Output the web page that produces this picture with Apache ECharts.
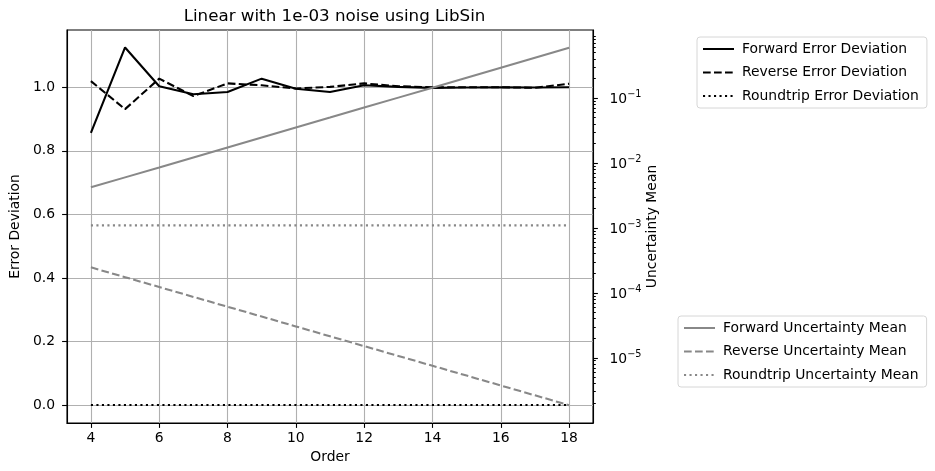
<!DOCTYPE html>
<html>
<head>
<meta charset="utf-8">
<script src="https://cdn.jsdelivr.net/npm/echarts@6/dist/echarts.min.js"></script>
<style>
  html, body { margin: 0; padding: 0; background: #fff; }
  #myChart { width: 935px; height: 471px; }
</style>
</head>
<body>
<div id="myChart"></div>
<script>
// x: polynomial order
const orders = [4, 5, 6, 7, 8, 9, 10, 11, 12, 13, 14, 15, 16, 17, 18];

// left axis: error deviation
const fwdErr = [0.856, 1.125, 1.003, 0.978, 0.985, 1.027, 0.995, 0.985, 1.006, 1.001, 0.998, 0.999, 1.0, 0.999, 1.0];
const revErr = [1.019, 0.931, 1.027, 0.972, 1.012, 1.006, 0.996, 1.001, 1.012, 1.003, 1.0, 1.0, 1.0, 0.998, 1.011];
const rtErr = [0, 0, 0, 0, 0, 0, 0, 0, 0, 0, 0, 0, 0, 0, 0];

// right axis (log): uncertainty mean
const fwdUnc = [0.0042, 0.00598, 0.00851, 0.01212, 0.01726, 0.02458, 0.035, 0.0498, 0.071, 0.101, 0.1439, 0.2049, 0.2917, 0.4154, 0.5916];
const revUnc = [2.466e-4, 1.739e-4, 1.227e-4, 8.65e-5, 6.1e-5, 4.31e-5, 3.04e-5, 2.14e-5, 1.51e-5, 1.066e-5, 7.52e-6, 5.31e-6, 3.74e-6, 2.64e-6, 1.86e-6];
const rtUnc = [1.09e-3, 1.09e-3, 1.09e-3, 1.09e-3, 1.09e-3, 1.09e-3, 1.09e-3, 1.09e-3, 1.09e-3, 1.09e-3, 1.09e-3, 1.09e-3, 1.09e-3, 1.09e-3, 1.09e-3];

// tick labels
const xTicks = [4, 6, 8, 10, 12, 14, 16, 18];
const yTicks = [0, 0.2, 0.4, 0.6, 0.8, 1.0];
const logTicks = [1e-5, 1e-4, 1e-3, 1e-2, 1e-1];
const logMinor = [];
for (let e = -6; e <= -1; e++) {
  for (let m = 2; m <= 9; m++) logMinor.push(m * Math.pow(10, e));
}

const FONT = "DejaVu Sans";
const FS = 13.9;
const GREY = "#888888";
const DASH = [7.7, 3.3];
const DOT = [2.1, 3.4];

function pairs(vals) {
  return orders.map((o, i) => [o, vals[i]]);
}

function lineSeries(name, vals, yIdx, color, type) {
  return {
    name: name,
    type: "line",
    yAxisIndex: yIdx,
    data: pairs(vals),
    symbol: "none",
    lineStyle: { color: color, width: 2.08, type: type, cap: "butt" },
    itemStyle: { color: color },
    z: yIdx === 0 ? 2 : 3,
  };
}

function supLabel(v) {
  const e = Math.round(Math.log10(v));
  return "{b|10}{e|" + (e < 0 ? "\u2212" + (-e) : e) + "}";
}

function legendBox(names, left, top) {
  return {
    data: names,
    orient: "vertical",
    left: left,
    top: top,
    itemWidth: 31,
    itemHeight: 14,
    itemGap: 9.5,
    padding: [5, 8, 5, 5],
    borderColor: "#d6d6d6",
    borderWidth: 1,
    borderRadius: 3,
    itemStyle: { opacity: 0 },
    textStyle: { fontFamily: FONT, fontSize: FS, color: "#000", padding: [0, 0, 0, 3] },
  };
}

let myChart = echarts.init(document.getElementById("myChart"));
myChart.setOption({
  animation: false,
  textStyle: { fontFamily: FONT },
  title: {
    text: "Linear with 1e-03 noise using LibSin",
    left: 329.5,
    top: 3,
    textAlign: "center",
    textStyle: { fontFamily: FONT, fontSize: 16.7, fontWeight: "normal", color: "#000" },
  },
  grid: {
    left: 66,
    right: 342,
    top: 30,
    bottom: 48,
    show: true,
    borderColor: "#000",
    borderWidth: 1.1,
    containLabel: false,
  },
  legend: [
    legendBox(["Forward Error Deviation", "Reverse Error Deviation", "Roundtrip Error Deviation"], 697, 37),
    legendBox(["Forward Uncertainty Mean", "Reverse Uncertainty Mean", "Roundtrip Uncertainty Mean"], 678, 316),
  ],
  xAxis: {
    type: "value",
    min: 3.3,
    max: 18.7,
    name: "Order",
    nameLocation: "middle",
    nameGap: 22,
    nameTextStyle: { fontFamily: FONT, fontSize: FS, color: "#000" },
    axisLine: { show: true, onZero: false, lineStyle: { color: "#000", width: 1.1 } },
    axisTick: { show: true, length: 4.9, customValues: xTicks, lineStyle: { color: "#000", width: 1.1 } },
    axisLabel: { customValues: xTicks, margin: 8, fontFamily: FONT, fontSize: FS, color: "#000" },
    splitLine: { show: true, lineStyle: { color: "#b0b0b0", width: 1.1 } },
  },
  yAxis: [
    {
      type: "value",
      position: "left",
      min: -0.0565,
      max: 1.18,
      name: "Error Deviation",
      nameLocation: "middle",
      nameGap: 37,
      nameRotate: 90,
      nameTextStyle: { fontFamily: FONT, fontSize: FS, color: "#000" },
      axisLine: { show: true, onZero: false, lineStyle: { color: "#000", width: 1.1 } },
      axisTick: { show: true, length: 4.9, customValues: yTicks, lineStyle: { color: "#000", width: 1.1 } },
      axisLabel: {
        customValues: yTicks,
        margin: 12,
        fontFamily: FONT,
        fontSize: FS,
        color: "#000",
        formatter: (v) => v.toFixed(1),
      },
      splitLine: { show: true, lineStyle: { color: "#b0b0b0", width: 1.1 } },
    },
    {
      type: "log",
      logBase: 10,
      position: "right",
      min: 9.9e-7,
      max: 1.11,
      name: "Uncertainty Mean",
      nameLocation: "middle",
      nameGap: 52,
      nameMoveOverlap: false,
      nameRotate: 90,
      nameTextStyle: { fontFamily: FONT, fontSize: FS, color: "#000" },
      axisLine: { show: true, onZero: false, lineStyle: { color: "#000", width: 1.1 } },
      axisTick: { show: true, length: 4.9, customValues: logTicks, lineStyle: { color: "#000", width: 1.1 } },
      axisLabel: {
        customValues: logTicks,
        margin: 12,
        padding: [0, 0, 0, 4.5],
        formatter: supLabel,
        rich: {
          b: { fontFamily: FONT, fontSize: FS, color: "#000", lineHeight: 17, verticalAlign: "bottom" },
          e: { fontFamily: FONT, fontSize: 9.7, color: "#000", lineHeight: 17, verticalAlign: "top" },
        },
      },
      splitLine: { show: false },
    },
    {
      type: "log",
      logBase: 10,
      position: "right",
      min: 9.9e-7,
      max: 1.11,
      axisLine: { show: false },
      axisTick: { show: true, length: 2.8, customValues: logMinor, lineStyle: { color: "#000", width: 1 } },
      axisLabel: { show: false },
      splitLine: { show: false },
    },
  ],
  series: [
    lineSeries("Forward Error Deviation", fwdErr, 0, "#000", "solid"),
    lineSeries("Reverse Error Deviation", revErr, 0, "#000", DASH),
    lineSeries("Roundtrip Error Deviation", rtErr, 0, "#000", DOT),
    lineSeries("Forward Uncertainty Mean", fwdUnc, 1, GREY, "solid"),
    lineSeries("Reverse Uncertainty Mean", revUnc, 1, GREY, DASH),
    lineSeries("Roundtrip Uncertainty Mean", rtUnc, 1, GREY, DOT),
  ],
});
</script>
</body>
</html>
